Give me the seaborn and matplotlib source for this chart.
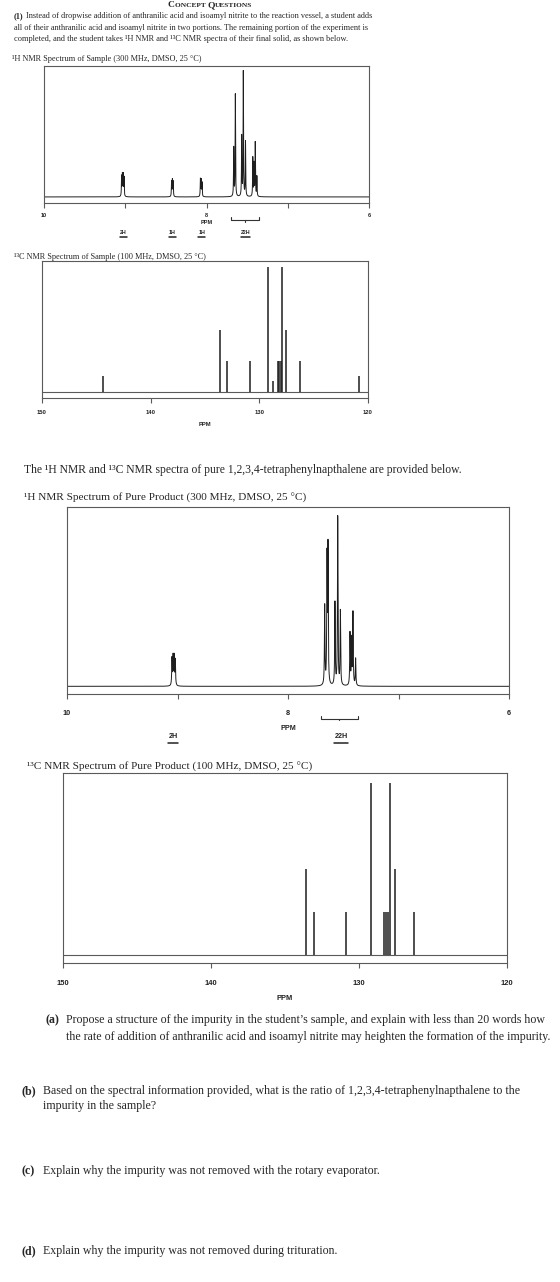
import numpy as np
import matplotlib
matplotlib.use("Agg")
import matplotlib.pyplot as plt
import seaborn as sns
from matplotlib.transforms import blended_transform_factory as btf
from matplotlib.lines import Line2D

# ---------------- data ----------------
h1_sample_ppm = [9.045, 9.035, 9.025, 9.015, 8.43, 8.42, 8.41, 8.075, 8.065, 8.055,
                 7.665, 7.645, 7.567, 7.547, 7.52, 7.43, 7.415, 7.40, 7.38]
h1_sample_int = [0.16, 0.17, 0.17, 0.15, 0.12, 0.13, 0.12, 0.14, 0.13, 0.11,
                 0.39, 0.82, 0.48, 1.00, 0.44, 0.31, 0.26, 0.43, 0.16]
h1_sample_labels = ["2H", "1H", "1H", "22H"]
h1_sample_label_ppm = [9.02, 8.42, 8.06, 7.52]

h1_pure_ppm = [9.05, 9.04, 9.03, 9.02, 7.668, 7.647, 7.638, 7.575, 7.55, 7.526,
               7.439, 7.425, 7.412, 7.388]
h1_pure_int = [0.16, 0.17, 0.17, 0.15, 0.47, 0.74, 0.80, 0.49, 1.00, 0.44,
               0.31, 0.27, 0.43, 0.16]
h1_pure_labels = ["2H", "22H"]
h1_pure_label_ppm = [9.04, 7.52]

c13_sample_ppm = [144.35, 133.63, 132.98, 130.89, 129.23, 128.74, 128.31, 128.16,
                  128.03, 127.91, 127.57, 126.28, 120.84]
c13_sample_int = [0.125, 0.5, 0.25, 0.25, 1.0, 0.09, 0.25, 0.25, 0.25, 1.0, 0.5, 0.25, 0.125]

c13_pure_ppm = [133.60, 133.01, 130.90, 129.21, 128.31, 128.16, 128.02, 127.91, 127.60, 126.29]
c13_pure_int = [0.5, 0.25, 0.25, 1.0, 0.25, 0.25, 0.25, 1.0, 0.5, 0.25]

h1_ticks = [10, 9, 8, 7, 6]
h1_ticklabels = ["10", "", "8", "", "6"]
c13_ticks = [150, 140, 130, 120]
c13_ticklabels = ["150", "140", "130", "120"]

# ---------------- figure ----------------
sns.set_style("white")
plt.rcParams["font.family"] = ["Liberation Serif", "DejaVu Serif"]
W, H = 560, 1282
fig = plt.figure(figsize=(5.6, 12.82), dpi=100)
renderer = fig.canvas.get_renderer()

SERIF = ["Liberation Serif", "DejaVu Serif"]
SANS = ["Liberation Sans", "DejaVu Sans"]
TXT = "#262626"
LINE = "#1e1e1e"
FRAME = "#5a5a5a"


def fx(x):
    return x / W


def fy(y):
    return 1 - y / H


def text_width(s, size, weight="normal", family=SERIF):
    t = fig.text(0, 0, s, fontsize=size, fontweight=weight, family=family)
    w = t.get_window_extent(renderer).width
    t.remove()
    return w


def fit_size(s, target, weight="normal", family=SERIF):
    return 10 * target / text_width(s, 10, weight, family)


def line(x, y, bold, rest, size, rest_x=None):
    if bold:
        fig.text(fx(x), fy(y), bold, fontsize=size, fontweight="bold", family=SERIF,
                 color=TXT, va="center", ha="left")
        if rest_x is None:
            rest_x = x + text_width(bold + " ", size, "bold")
    else:
        rest_x = x
    fig.text(fx(rest_x), fy(y), rest, fontsize=size, family=SERIF, color=TXT,
             va="center", ha="left")


def make_ax(x0, y0, x1, y1):
    ax = fig.add_axes([x0 / W, 1 - y1 / H, (x1 - x0) / W, (y1 - y0) / H])
    for s in ax.spines.values():
        s.set_color(FRAME)
        s.set_linewidth(0.8)
        s.set_visible(True)
    ax.set_yticks([])
    ax.set_ylabel("")
    ax.set_xlabel("")
    return ax


def style_xticks(ax, ticks, labels, size, pad, length):
    ax.set_xticks(ticks)
    ax.set_xticklabels(labels)
    ax.tick_params(axis="x", direction="out", length=length, width=0.8, color=FRAME,
                   pad=pad, labelsize=size, bottom=True)
    for t in ax.get_xticklabels():
        t.set_fontweight("bold")
        t.set_family(SANS)
        t.set_color("#222222")


def lorentz(grid, ppm, amp, w):
    y = np.zeros_like(grid)
    for p, a in zip(ppm, amp):
        y += a * w ** 2 / ((grid - p) ** 2 + w ** 2)
    return y / y.max()


def h1_panel(box, ppm, amp, ylim, tick_size, pad, ppm_y, labels, label_ppm, label_y,
             label_size, bracket_y, bracket_rng):
    ax = make_ax(*box)
    grid = np.linspace(10, 6, 12000)
    spec = lorentz(grid, ppm, amp, 0.0028)
    sns.lineplot(x=grid, y=spec, ax=ax, color=LINE, lw=0.7, sort=False)
    ax.set_xlim(10, 6)
    ax.set_ylim(*ylim)
    ax.set_ylabel("")
    style_xticks(ax, h1_ticks, h1_ticklabels, tick_size, pad, 3.5)
    tr = btf(ax.transAxes, fig.transFigure)
    ax.text(0.5, fy(ppm_y), "PPM", transform=tr, ha="center", va="center",
            fontsize=tick_size, fontweight="bold", family=SANS, color="#222222")
    trd = btf(ax.transData, fig.transFigure)
    for lab, p in zip(labels, label_ppm):
        ax.text(p, fy(label_y), lab, transform=trd, ha="center", va="center",
                fontsize=label_size, fontweight="bold", family=SANS, color="#222222")
        wpx = text_width(lab, label_size, "bold", SANS)
        half = wpx / 2 / (box[2] - box[0]) * 4
        ax.add_line(Line2D([p + half, p - half], [fy(label_y + label_size * 1.1)] * 2,
                           transform=trd, color="#222222", lw=1.1, clip_on=False))
    a, b = bracket_rng
    m = (a + b) / 2
    by = fy(bracket_y)
    ax.add_line(Line2D([a, a, b, b], [fy(bracket_y - 3), by, by, fy(bracket_y - 3)],
                       transform=trd, color="#333333", lw=0.8, clip_on=False))
    ax.add_line(Line2D([m, m], [by, fy(bracket_y + 1.5)], transform=trd,
                       color="#333333", lw=0.8, clip_on=False))
    return ax


def c13_panel(box, ppm, amp, ylim, tick_size, pad, ppm_y):
    ax = make_ax(*box)
    ax.axhline(0, color=FRAME, lw=0.8)
    ax.vlines(ppm, 0, amp, color=LINE, lw=1.1)
    ax.set_xlim(150, 120)
    ax.set_ylim(*ylim)
    style_xticks(ax, c13_ticks, c13_ticklabels, tick_size, pad, 3.5)
    tr = btf(ax.transAxes, fig.transFigure)
    ax.text(0.5, fy(ppm_y), "PPM", transform=tr, ha="center", va="center",
            fontsize=tick_size, fontweight="bold", family=SANS, color="#222222")
    return ax


# ---------------- header text ----------------
hx = 168
fig.text(fx(hx), fy(5), "C", fontsize=6.8, fontweight="bold", family=SERIF, color=TXT,
         va="center", ha="left")
hx += text_width("C", 6.8, "bold")
fig.text(fx(hx), fy(5.5), "ONCEPT ", fontsize=5.3, fontweight="bold", family=SERIF,
         color=TXT, va="center", ha="left")
hx += text_width("ONCEPT ", 5.3, "bold")
fig.text(fx(hx), fy(5), "Q", fontsize=6.8, fontweight="bold", family=SERIF, color=TXT,
         va="center", ha="left")
hx += text_width("Q", 6.8, "bold")
fig.text(fx(hx), fy(5.5), "UESTIONS", fontsize=5.3, fontweight="bold", family=SERIF,
         color=TXT, va="center", ha="left")

p1 = "(1) Instead of dropwise addition of anthranilic acid and isoamyl nitrite to the reaction vessel, a student adds"
s_top = fit_size(p1, 356)
line(14, 16, "(1)", "Instead of dropwise addition of anthranilic acid and isoamyl nitrite to the reaction vessel, a student adds", s_top)
line(14, 28, "", "all of their anthranilic acid and isoamyl nitrite in two portions. The remaining portion of the experiment is", s_top)
line(14, 39, "", "completed, and the student takes ¹H NMR and ¹³C NMR spectra of their final solid, as shown below.", s_top)

t1 = "¹H NMR Spectrum of Sample (300 MHz, DMSO, 25 °C)"
s_pt = fit_size(t1, 188)
line(12, 59, "", t1, s_pt)
line(14, 257, "", "¹³C NMR Spectrum of Sample (100 MHz, DMSO, 25 °C)", s_pt)

t3 = "The ¹H NMR and ¹³C NMR spectra of pure 1,2,3,4-tetraphenylnapthalene are provided below."
s_mid = fit_size(t3, 438)
line(24, 470, "", t3, s_mid)
t4 = "¹H NMR Spectrum of Pure Product (300 MHz, DMSO, 25 °C)"
s_pt2 = fit_size(t4, 282)
line(24, 498, "", t4, s_pt2)
line(27, 767, "", "¹³C NMR Spectrum of Pure Product (100 MHz, DMSO, 25 °C)", s_pt2)

# ---------------- spectra ----------------
h1_panel((44, 66, 369, 203), h1_sample_ppm, h1_sample_int, (-0.048, 1.035), 4.0, 4.0,
         223, h1_sample_labels, h1_sample_label_ppm, 233, 3.8, 220, (7.70, 7.36))
c13_panel((42, 261, 368, 398), c13_sample_ppm, c13_sample_int, (-0.048, 1.05), 4.2, 5.0, 424)
h1_panel((67, 507, 509, 694), h1_pure_ppm, h1_pure_int, (-0.045, 1.05), 5.2, 8.0,
         728, h1_pure_labels, h1_pure_label_ppm, 737, 5.2, 719, (7.70, 7.37))
c13_panel((63, 773, 507, 963), c13_pure_ppm, c13_pure_int, (-0.047, 1.06), 5.4, 9.0, 999)

# ---------------- questions ----------------
qa2 = "the rate of addition of anthranilic acid and isoamyl nitrite may heighten the formation of the impurity."
s_q = fit_size(qa2, 484)
line(46, 1020, "(a)", "Propose a structure of the impurity in the student’s sample, and explain with less than 20 words how", s_q, rest_x=66)
line(66, 1037, "", qa2, s_q)
line(22, 1091, "(b)", "Based on the spectral information provided, what is the ratio of 1,2,3,4-tetraphenylnapthalene to the", s_q, rest_x=43)
line(43, 1106, "", "impurity in the sample?", s_q)
line(22, 1171, "(c)", "Explain why the impurity was not removed with the rotary evaporator.", s_q, rest_x=43)
line(22, 1251, "(d)", "Explain why the impurity was not removed during trituration.", s_q, rest_x=43)

fig.savefig("out.png", dpi=100)
